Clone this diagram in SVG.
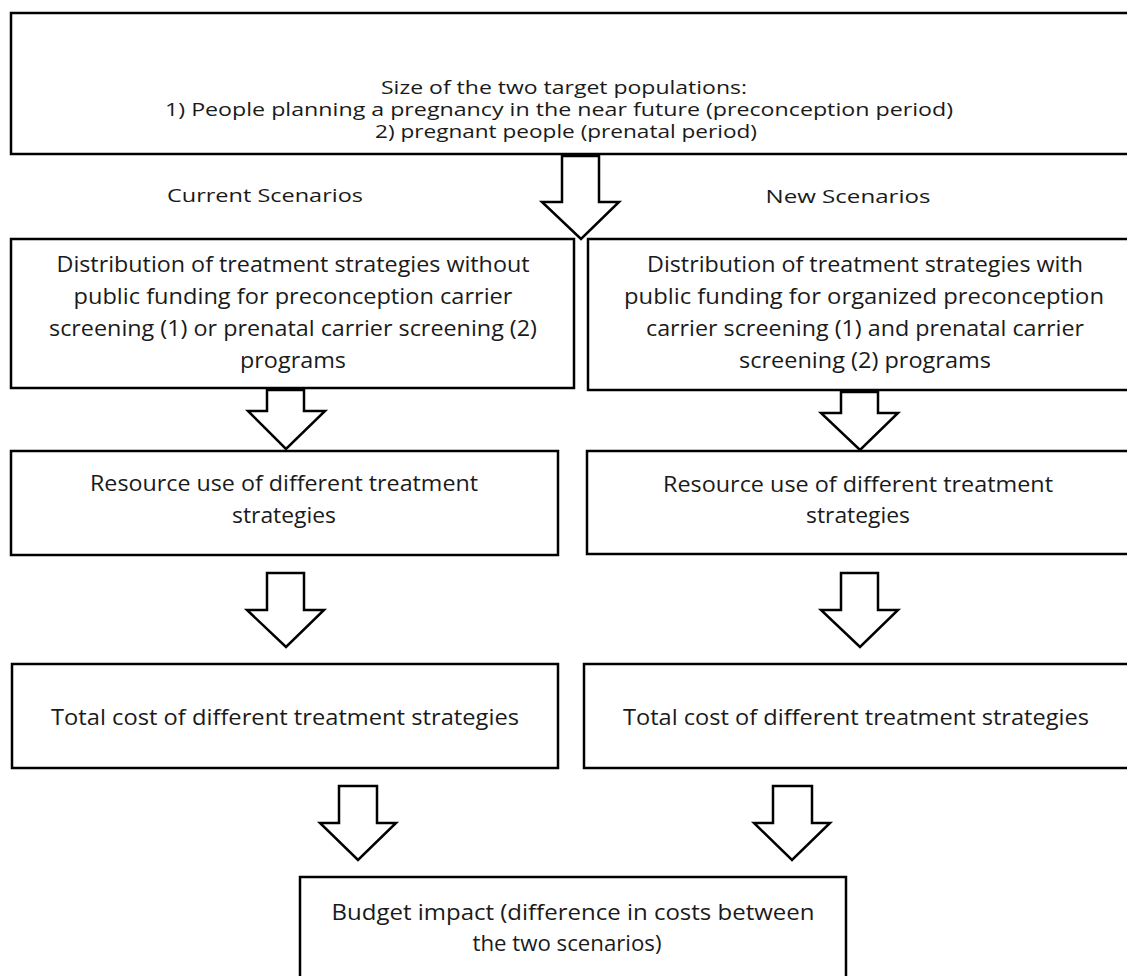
<svg xmlns="http://www.w3.org/2000/svg" width="1127" height="976" viewBox="0 0 1127 976">
<style>
.box{fill:#fff;stroke:#000;stroke-width:2.5}
.arr{fill:#fff;stroke:#000;stroke-width:2.5;stroke-linejoin:miter}
text{font-family:"Open Sans","Lato","Liberation Sans",sans-serif;fill:#1a1a1a;text-anchor:middle}
.t{font-size:18px}
.m{font-size:21px}
</style>
<rect width="1127" height="976" fill="#fff"/>
<g id="connectors">
<polygon class="arr" points="562,156 599,156 599,202 619,202 581,239 542,202 562,202"/>
<polygon class="arr" points="267,390 304,390 304,411 325,411 286,449 248,411 267,411"/>
<polygon class="arr" points="841,392 878,392 878,413 898,413 860,450 821,413 841,413"/>
<polygon class="arr" points="267,573 304,573 304,610 324,610 286,647 247,610 267,610"/>
<polygon class="arr" points="841,573 878,573 878,610 898,610 860,647 821,610 841,610"/>
<polygon class="arr" points="339,786 377,786 377,823 396,823 358,860 320,823 339,823"/>
<polygon class="arr" points="773,786 812,786 812,823 830,823 792,860 754,823 773,823"/>
</g>
<g id="top">
<rect class="box" x="11" y="13" width="1125" height="141"/>
<text class="t" x="564" y="94" textLength="366" lengthAdjust="spacingAndGlyphs">Size of the two target populations:</text>
<text class="t" x="559" y="116" textLength="788" lengthAdjust="spacingAndGlyphs">1) People planning a pregnancy in the near future (preconception period)</text>
<text class="t" x="566" y="138" textLength="382" lengthAdjust="spacingAndGlyphs">2) pregnant people (prenatal period)</text>
</g>
<g id="label-current"><text class="t" x="265" y="202" textLength="196" lengthAdjust="spacingAndGlyphs">Current Scenarios</text></g>
<g id="label-new"><text class="t" x="848" y="203" textLength="165" lengthAdjust="spacingAndGlyphs">New Scenarios</text></g>
<g id="dist-current">
<rect class="box" x="11" y="239" width="563" height="149"/>
<text class="m" x="293" y="272" textLength="473" lengthAdjust="spacingAndGlyphs">Distribution of treatment strategies without</text>
<text class="m" x="293" y="304" textLength="439" lengthAdjust="spacingAndGlyphs">public funding for preconception carrier</text>
<text class="m" x="293" y="336" textLength="488" lengthAdjust="spacingAndGlyphs">screening (1) or prenatal carrier screening (2)</text>
<text class="m" x="293" y="368" textLength="106" lengthAdjust="spacingAndGlyphs">programs</text>
</g>
<g id="dist-new">
<rect class="box" x="588" y="239" width="548" height="151"/>
<text class="m" x="865" y="272" textLength="436" lengthAdjust="spacingAndGlyphs">Distribution of treatment strategies with</text>
<text class="m" x="864" y="304" textLength="480" lengthAdjust="spacingAndGlyphs">public funding for organized preconception</text>
<text class="m" x="865" y="336" textLength="438" lengthAdjust="spacingAndGlyphs">carrier screening (1) and prenatal carrier</text>
<text class="m" x="865" y="368" textLength="252" lengthAdjust="spacingAndGlyphs">screening (2) programs</text>
</g>
<g id="resource-current">
<rect class="box" x="11" y="451" width="547" height="104"/>
<text class="m" x="284" y="491" textLength="388" lengthAdjust="spacingAndGlyphs">Resource use of different treatment</text>
<text class="m" x="284" y="523" textLength="104" lengthAdjust="spacingAndGlyphs">strategies</text>
</g>
<g id="resource-new">
<rect class="box" x="587" y="451" width="549" height="103"/>
<text class="m" x="858" y="492" textLength="390" lengthAdjust="spacingAndGlyphs">Resource use of different treatment</text>
<text class="m" x="858" y="523" textLength="104" lengthAdjust="spacingAndGlyphs">strategies</text>
</g>
<g id="cost-current">
<rect class="box" x="12" y="664" width="546" height="104"/>
<text class="m" x="285" y="725" textLength="468" lengthAdjust="spacingAndGlyphs">Total cost of different treatment strategies</text>
</g>
<g id="cost-new">
<rect class="box" x="584" y="664" width="552" height="104"/>
<text class="m" x="856" y="725" textLength="466" lengthAdjust="spacingAndGlyphs">Total cost of different treatment strategies</text>
</g>
<g id="budget">
<rect class="box" x="300" y="877" width="546" height="120"/>
<text class="m" x="573" y="920" textLength="483" lengthAdjust="spacingAndGlyphs">Budget impact (difference in costs between</text>
<text class="m" x="567" y="951" textLength="189" lengthAdjust="spacingAndGlyphs">the two scenarios)</text>
</g>
</svg>
